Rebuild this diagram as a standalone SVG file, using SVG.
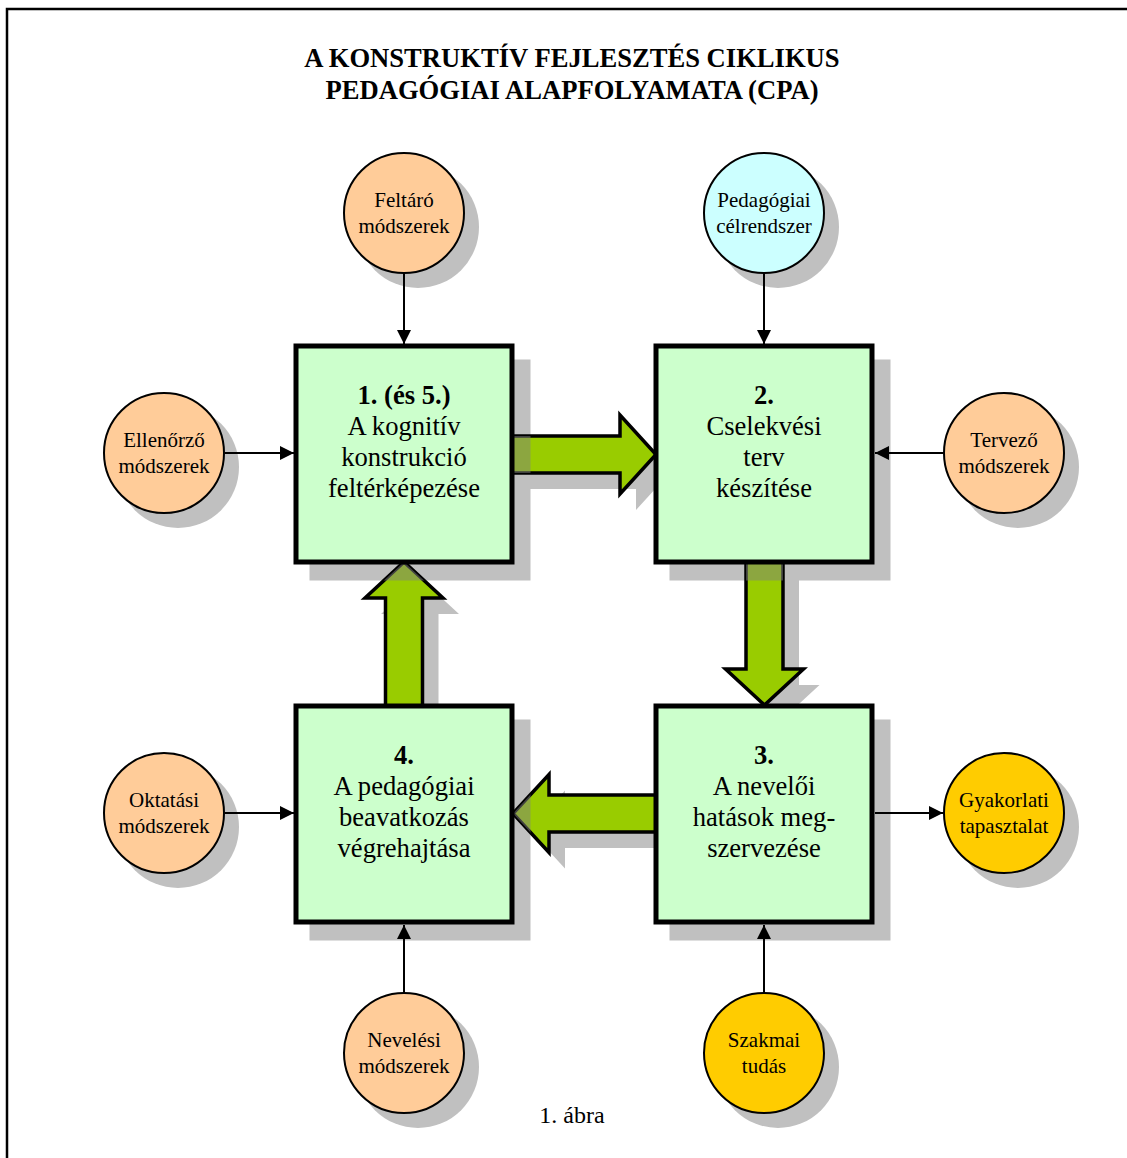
<svg xmlns="http://www.w3.org/2000/svg" xmlns:xlink="http://www.w3.org/1999/xlink" width="1127" height="1158" viewBox="0 0 1127 1158">
<style>
  .box { fill: #ccffcc; stroke: #000; stroke-width: 5; }
  .bshadow { fill: #c0c0c0; }
  .cshadow { fill: #c0c0c0; }
  .circ { stroke: #000; stroke-width: 2; }
  .peach { fill: #ffcc99; }
  .cyan { fill: #ccffff; }
  .gold { fill: #ffcc00; }
  .big { fill: #99cc00; stroke: #000; stroke-width: 3.5; stroke-linejoin: miter; }
  .ashadow { fill: #c0c0c0; }
  .conn { stroke: #000; stroke-width: 2; fill: none; marker-end: url(#ah); }
  .bt { font-family: "Liberation Serif", "Times New Roman", serif; font-size: 26.6px; text-anchor: middle; fill: #000; }
  .bt .b { font-weight: bold; }
  .ct { font-family: "Liberation Serif", "Times New Roman", serif; font-size: 21px; text-anchor: middle; fill: #000; }
  .title { font-family: "Liberation Serif", "Times New Roman", serif; font-size: 26.6px; font-weight: bold; text-anchor: middle; fill: #000; }
</style>
<defs>
  <marker id="ah" viewBox="0 0 14 14" refX="14" refY="7" markerWidth="14" markerHeight="14" markerUnits="userSpaceOnUse" orient="auto">
    <path d="M0,0 L14,7 L0,14 z" fill="#000"/>
  </marker>
  <polygon id="arR" points="505,436 620,436 620,415 656,454.5 620,494 620,473 505,473"/>
  <polygon id="arD" points="746,556 783,556 783,669 803.5,669 764.5,705 725.5,669 746,669"/>
  <polygon id="arU" points="385.5,712 385.5,598 365,598 404,562 443,598 422.5,598 422.5,712"/>
  <polygon id="arL" points="664,795 549,795 549,774.5 513,813.5 549,852.5 549,832 664,832"/>
  <clipPath id="arClip">
    <use xlink:href="#arR"/><use xlink:href="#arD"/><use xlink:href="#arU"/><use xlink:href="#arL"/>
  </clipPath>
</defs>
<rect width="1127" height="1158" fill="#fff"/>
<path d="M7,1158 V9 H1127" fill="none" stroke="#000" stroke-width="2.5"/>

<text class="title" x="572" y="67">A KONSTRUKTÍV FEJLESZTÉS CIKLIKUS</text>
<text class="title" x="572" y="99">PEDAGÓGIAI ALAPFOLYAMATA (CPA)</text>

<!-- shadows -->
<g id="shadows">
  <rect class="bshadow" x="309.5" y="359.5" width="221" height="221"/>
  <rect class="bshadow" x="669.5" y="359.5" width="221" height="221"/>
  <rect class="bshadow" x="669.5" y="719.5" width="221" height="221"/>
  <rect class="bshadow" x="309.5" y="719.5" width="221" height="221"/>
  <g transform="translate(16,16)" class="ashadow">
    <use xlink:href="#arR"/><use xlink:href="#arD"/><use xlink:href="#arU"/><use xlink:href="#arL"/>
  </g>
  <circle class="cshadow" cx="418" cy="227" r="61"/>
  <circle class="cshadow" cx="778" cy="227" r="61"/>
  <circle class="cshadow" cx="178" cy="467" r="61"/>
  <circle class="cshadow" cx="1018" cy="467" r="61"/>
  <circle class="cshadow" cx="178" cy="827" r="61"/>
  <circle class="cshadow" cx="1018" cy="827" r="61"/>
  <circle class="cshadow" cx="418" cy="1067" r="61"/>
  <circle class="cshadow" cx="778" cy="1067" r="61"/>
</g>

<!-- connectors -->
<g id="connectors">
  <use class="big" xlink:href="#arR"/>
  <use class="big" xlink:href="#arD"/>
  <use class="big" xlink:href="#arU"/>
  <use class="big" xlink:href="#arL"/>
  <g clip-path="url(#arClip)" fill="#808080" opacity="0.5">
    <rect x="309.5" y="359.5" width="221" height="221"/>
    <rect x="669.5" y="359.5" width="221" height="221"/>
    <rect x="669.5" y="719.5" width="221" height="221"/>
    <rect x="309.5" y="719.5" width="221" height="221"/>
  </g>
  <path class="conn" d="M404,274 V344"/>
  <path class="conn" d="M764,274 V344"/>
  <path class="conn" d="M225,453 H294"/>
  <path class="conn" d="M943,453 H875"/>
  <path class="conn" d="M225,813 H294"/>
  <path class="conn" d="M875,813 H943"/>
  <path class="conn" d="M404,993 V925"/>
  <path class="conn" d="M764,993 V925"/>
</g>

<!-- boxes -->
<g id="box1">
  <rect class="box" x="296" y="346" width="216" height="216"/>
  <text class="bt" x="404"><tspan class="b" x="404" y="404">1. (és 5.)</tspan><tspan x="404" y="435">A kognitív</tspan><tspan x="404" y="466">konstrukció</tspan><tspan x="404" y="497">feltérképezése</tspan></text>
</g>
<g id="box2">
  <rect class="box" x="656" y="346" width="216" height="216"/>
  <text class="bt" x="764"><tspan class="b" x="764" y="404">2.</tspan><tspan x="764" y="435">Cselekvési</tspan><tspan x="764" y="466">terv</tspan><tspan x="764" y="497">készítése</tspan></text>
</g>
<g id="box3">
  <rect class="box" x="656" y="706" width="216" height="216"/>
  <text class="bt" x="764"><tspan class="b" x="764" y="764">3.</tspan><tspan x="764" y="795">A nevelői</tspan><tspan x="764" y="826">hatások meg-</tspan><tspan x="764" y="857">szervezése</tspan></text>
</g>
<g id="box4">
  <rect class="box" x="296" y="706" width="216" height="216"/>
  <text class="bt" x="404"><tspan class="b" x="404" y="764">4.</tspan><tspan x="404" y="795">A pedagógiai</tspan><tspan x="404" y="826">beavatkozás</tspan><tspan x="404" y="857">végrehajtása</tspan></text>
</g>

<!-- circles -->
<g id="c-feltaro">
  <circle class="circ peach" cx="404" cy="213" r="60"/>
  <text class="ct"><tspan x="404" y="207">Feltáró</tspan><tspan x="404" y="233">módszerek</tspan></text>
</g>
<g id="c-celrendszer">
  <circle class="circ cyan" cx="764" cy="213" r="60"/>
  <text class="ct"><tspan x="764" y="207">Pedagógiai</tspan><tspan x="764" y="233">célrendszer</tspan></text>
</g>
<g id="c-ellenorzo">
  <circle class="circ peach" cx="164" cy="453" r="60"/>
  <text class="ct"><tspan x="164" y="447">Ellenőrző</tspan><tspan x="164" y="473">módszerek</tspan></text>
</g>
<g id="c-tervezo">
  <circle class="circ peach" cx="1004" cy="453" r="60"/>
  <text class="ct"><tspan x="1004" y="447">Tervező</tspan><tspan x="1004" y="473">módszerek</tspan></text>
</g>
<g id="c-oktatasi">
  <circle class="circ peach" cx="164" cy="813" r="60"/>
  <text class="ct"><tspan x="164" y="807">Oktatási</tspan><tspan x="164" y="833">módszerek</tspan></text>
</g>
<g id="c-gyakorlati">
  <circle class="circ gold" cx="1004" cy="813" r="60"/>
  <text class="ct"><tspan x="1004" y="807">Gyakorlati</tspan><tspan x="1004" y="833">tapasztalat</tspan></text>
</g>
<g id="c-nevelesi">
  <circle class="circ peach" cx="404" cy="1053" r="60"/>
  <text class="ct"><tspan x="404" y="1047">Nevelési</tspan><tspan x="404" y="1073">módszerek</tspan></text>
</g>
<g id="c-szakmai">
  <circle class="circ gold" cx="764" cy="1053" r="60"/>
  <text class="ct"><tspan x="764" y="1047">Szakmai</tspan><tspan x="764" y="1073">tudás</tspan></text>
</g>

<text class="ct" x="572" y="1123" style="font-size:24px">1. ábra</text>
</svg>
